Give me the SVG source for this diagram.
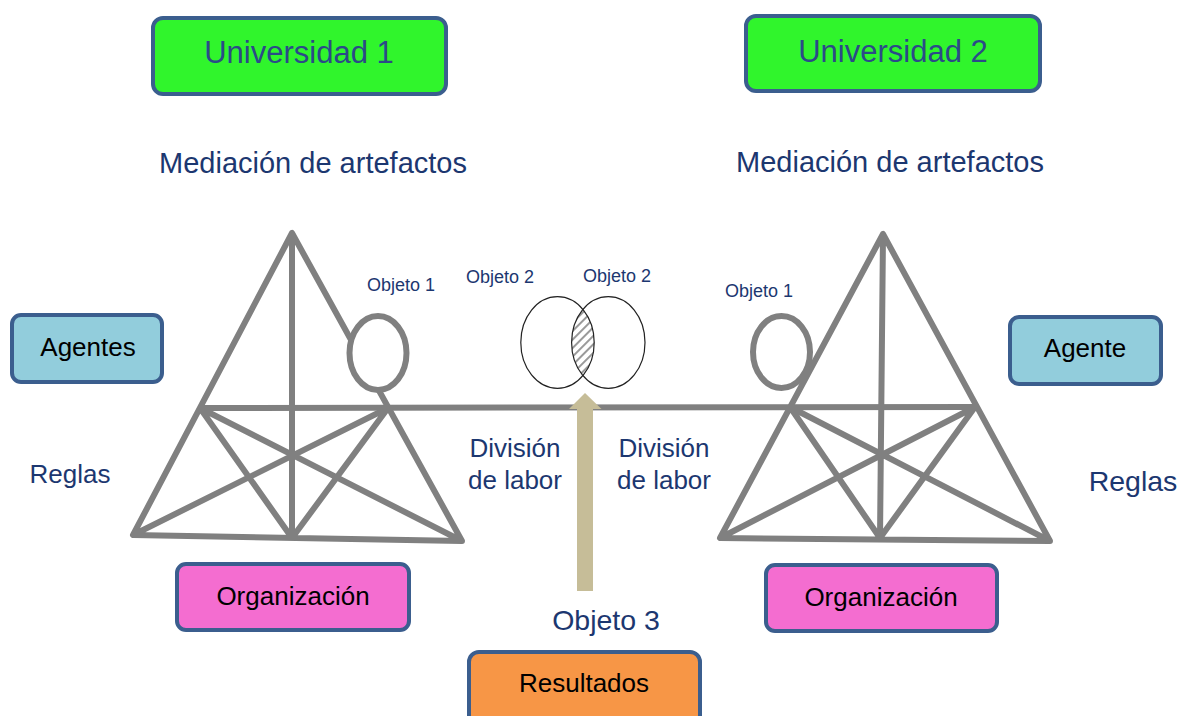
<svg xmlns="http://www.w3.org/2000/svg" width="1183" height="716" viewBox="0 0 1183 716">
<style>
.box{stroke:#3B5E8E;stroke-width:4}
.frame{stroke:#808080;stroke-width:6;fill:none;stroke-linecap:butt;stroke-linejoin:round}
.obj{stroke:#808080;stroke-width:6;fill:#fff}
.venn{stroke:#222;stroke-width:1.2;fill:none}
.t{font-family:"Liberation Sans",Arial,sans-serif}
.navy{fill:#1C3770}
.blk{fill:#000}
</style>
<defs>
<pattern id="hatch" patternUnits="userSpaceOnUse" width="6" height="6" patternTransform="rotate(-45)">
<rect width="6" height="6" fill="#fff"/>
<line x1="0" y1="3" x2="6" y2="3" stroke="#555" stroke-width="1.2"/>
</pattern>
<clipPath id="cL"><ellipse cx="557.5" cy="342.5" rx="36.7" ry="45.8"/></clipPath>
<clipPath id="cR"><ellipse cx="608.3" cy="342.5" rx="36.7" ry="45.8"/></clipPath>
</defs>
<rect width="1183" height="716" fill="#fff"/>

<g id="connectors">
<line class="frame" x1="198" y1="408" x2="975" y2="407"/>
<path fill="#C6BD98" d="M585,393 L601.5,409 L593,409 L593,591 L577,591 L577,409 L569,409 Z"/>
</g>

<g id="system-1">
<path class="frame" d="M292,233 L133,535 L462,541 Z M292,233 L292,538 M200,408 L292,538 M200,408 L462,541 M388,408 L133,535 M388,408 L292,538"/>
<ellipse class="obj" cx="378" cy="353" rx="28.5" ry="37"/>
</g>

<g id="system-2">
<path class="frame" d="M883,234 L720,538 L1050,541 Z M883,234 L880,538 M790,407 L880,538 M790,407 L1050,541 M975,407 L720,538 M975,407 L880,538"/>
<ellipse class="obj" cx="781.5" cy="352" rx="28.5" ry="36"/>
</g>

<g id="venn">
<g clip-path="url(#cL)"><rect x="560" y="290" width="40" height="105" fill="url(#hatch)" clip-path="url(#cR)"/></g>
<ellipse class="venn" cx="557.5" cy="342.5" rx="36.7" ry="45.8"/>
<ellipse class="venn" cx="608.3" cy="342.5" rx="36.7" ry="45.8"/>
</g>

<g id="universidad-1">
<rect class="box" x="153" y="18" width="293" height="76" rx="10" fill="#30F52C"/>
<text class="t" x="299" y="63" font-size="31" text-anchor="middle" fill="#2B4A88">Universidad 1</text>
</g>
<g id="universidad-2">
<rect class="box" x="746" y="16" width="294" height="75" rx="10" fill="#30F52C"/>
<text class="t" x="893" y="62" font-size="31" text-anchor="middle" fill="#2B4A88">Universidad 2</text>
</g>

<g id="mediacion-1"><text class="t navy" x="313" y="173" font-size="29" text-anchor="middle">Mediación de artefactos</text></g>
<g id="mediacion-2"><text class="t navy" x="890" y="172" font-size="29" text-anchor="middle">Mediación de artefactos</text></g>

<g id="agentes">
<rect class="box" x="12" y="315" width="150" height="67" rx="9" fill="#92CDDC"/>
<text class="t blk" x="88" y="356" font-size="26" text-anchor="middle">Agentes</text>
</g>
<g id="agente">
<rect class="box" x="1010" y="317" width="151" height="67" rx="9" fill="#92CDDC"/>
<text class="t blk" x="1085" y="357" font-size="26" text-anchor="middle">Agente</text>
</g>

<g id="reglas-1"><text class="t navy" x="70" y="483" font-size="26" text-anchor="middle">Reglas</text></g>
<g id="reglas-2"><text class="t navy" x="1133" y="491" font-size="28.5" text-anchor="middle">Reglas</text></g>

<g id="objeto-1a"><text class="t navy" x="401" y="291" font-size="18" text-anchor="middle">Objeto 1</text></g>
<g id="objeto-1b"><text class="t navy" x="759" y="297" font-size="18" text-anchor="middle">Objeto 1</text></g>
<g id="objeto-2a"><text class="t navy" x="500" y="283" font-size="18" text-anchor="middle">Objeto 2</text></g>
<g id="objeto-2b"><text class="t navy" x="617" y="282" font-size="18" text-anchor="middle">Objeto 2</text></g>

<g id="division-1"><text class="t navy" font-size="26" text-anchor="middle"><tspan x="515" y="457">División</tspan><tspan x="515" y="489">de labor</tspan></text></g>
<g id="division-2"><text class="t navy" font-size="26" text-anchor="middle"><tspan x="664" y="457">División</tspan><tspan x="664" y="489">de labor</tspan></text></g>

<g id="organizacion-1">
<rect class="box" x="177" y="564" width="232" height="66" rx="9" fill="#F46DD0"/>
<text class="t blk" x="293" y="605" font-size="26" text-anchor="middle">Organización</text>
</g>
<g id="organizacion-2">
<rect class="box" x="766" y="565" width="231" height="66" rx="9" fill="#F46DD0"/>
<text class="t blk" x="881" y="606" font-size="26" text-anchor="middle">Organización</text>
</g>

<g id="objeto-3"><text class="t navy" x="606" y="630" font-size="28.5" text-anchor="middle">Objeto 3</text></g>

<g id="resultados">
<rect class="box" x="469" y="652" width="231" height="80" rx="10" fill="#F79646"/>
<text class="t blk" x="584" y="692" font-size="26" text-anchor="middle">Resultados</text>
</g>
</svg>
